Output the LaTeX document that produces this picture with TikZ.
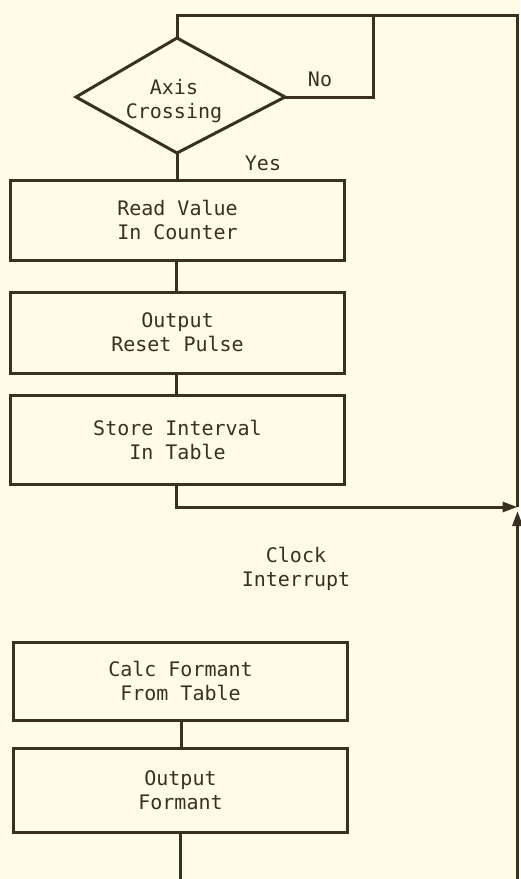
\documentclass[tikz,border=0pt]{standalone}
\usepackage{fontspec}
\setmonofont{DejaVu Sans Mono}
\usetikzlibrary{arrows.meta,calc}
\definecolor{paper}{RGB}{254,252,230}
\definecolor{ink}{RGB}{58,48,32}
\tikzset{
  conn/.style={draw=ink, line width=3pt, line join=miter},
  arr/.style={conn, -{Triangle[length=15pt,width=10pt]}},
  procbox/.style={draw=ink, line width=3pt, minimum width=334pt, inner sep=0pt,
    font=\ttfamily\fontsize{20}{24}\selectfont, text=ink, align=center},
  lbl/.style={font=\ttfamily\fontsize{20}{24}\selectfont, text=ink, align=center, inner sep=0pt}
}
\begin{document}
\begin{tikzpicture}[x=1pt,y=-1pt]
\fill[paper] (0,0) rectangle (520,879);
\useasboundingbox (0,0) rectangle (520,879);
% decision
\coordinate (dT) at (177,38);
\coordinate (dR) at (285,97);
\coordinate (dB) at (177,153);
\coordinate (dL) at (76,97);
\draw[conn] (dT) -- (dR) -- (dB) -- (dL) -- cycle;
\node[lbl] (dtext) at (174,101) {Axis\\Crossing};
\node[lbl] (no) at (320,79) {No};
\node[lbl] (yes) at (263,163) {Yes};
% boxes
\node[procbox, minimum height=80pt] (b1) at (177.5,220) {Read Value\\In Counter};
\node[procbox, minimum height=81pt] (b2) at (177.5,332.5) {Output\\Reset Pulse};
\node[procbox, minimum height=89pt] (b3) at (177.5,439.5) {Store Interval\\In Table};
\node[lbl] (clk) at (296,569) {Clock\\Interrupt};
\node[procbox, minimum height=78pt] (b4) at (180.5,681) {Calc Formant\\From Table};
\node[procbox, minimum height=84pt] (b5) at (180.5,790) {Output\\Formant};
% loop coordinates
\coordinate (tL) at (177,15);
\coordinate (tR) at (517.5,15);
\coordinate (nT) at (373,15);
\coordinate (nR) at (373,97);
\coordinate (rJ) at (517.5,507);
\coordinate (rA) at (517.5,511);
\coordinate (rB) at (517.5,879);
\coordinate (h3) at (176,507);
\coordinate (b5o) at (180,879);
% connectors
\draw[conn] (dB) -- (dB |- b1.north);
\draw[conn] (176,260) -- (176,292);
\draw[conn] (176,373) -- (176,395);
\draw[conn] (181,720) -- (181,748);
\draw[conn] (180,832) -- (b5o);
\draw[conn] (dR) -- (nR) -- (nT);
\draw[conn] (rJ) -- (tR) -- (tL) -- (dT);
\draw[arr] (176,484) -- (h3) -- (rJ);
\draw[arr] (rB) -- (rA);
\end{tikzpicture}
\end{document}
